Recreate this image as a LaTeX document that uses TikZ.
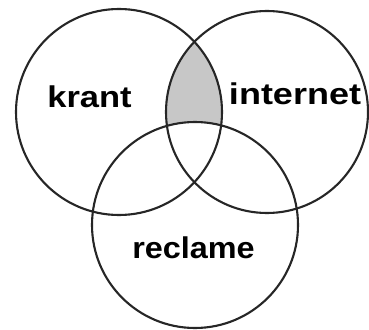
\documentclass[tikz,border=0pt]{standalone}
\usepackage{fontspec}
\setmainfont{Liberation Sans}
\begin{document}
\begin{tikzpicture}[x=1pt,y=-1pt,
  ring/.style={draw=black!85,line width=2.1pt},
  label/.style={font=\fontsize{30}{30}\selectfont\bfseries,anchor=base,inner sep=0pt}]
\useasboundingbox[fill=white] (0,0) rectangle (369,329);
\begin{scope}
  \clip (119,112) circle (103);
  \clip (267,112) circle (101);
  \fill[black!22,even odd rule] (0,0) rectangle (369,329) (195,225) circle (103);
\end{scope}
\draw[ring] (119,112) circle (103);
\draw[ring] (267,112) circle (101);
\draw[ring] (195,225) circle (103);
\node[label,xscale=1.15] (krant) at (89.5,107) {krant};
\node[label,xscale=1.2] (internet) at (295,104) {internet};
\node[label,xscale=1.08] (reclame) at (193.5,258) {reclame};
\end{tikzpicture}
\end{document}
